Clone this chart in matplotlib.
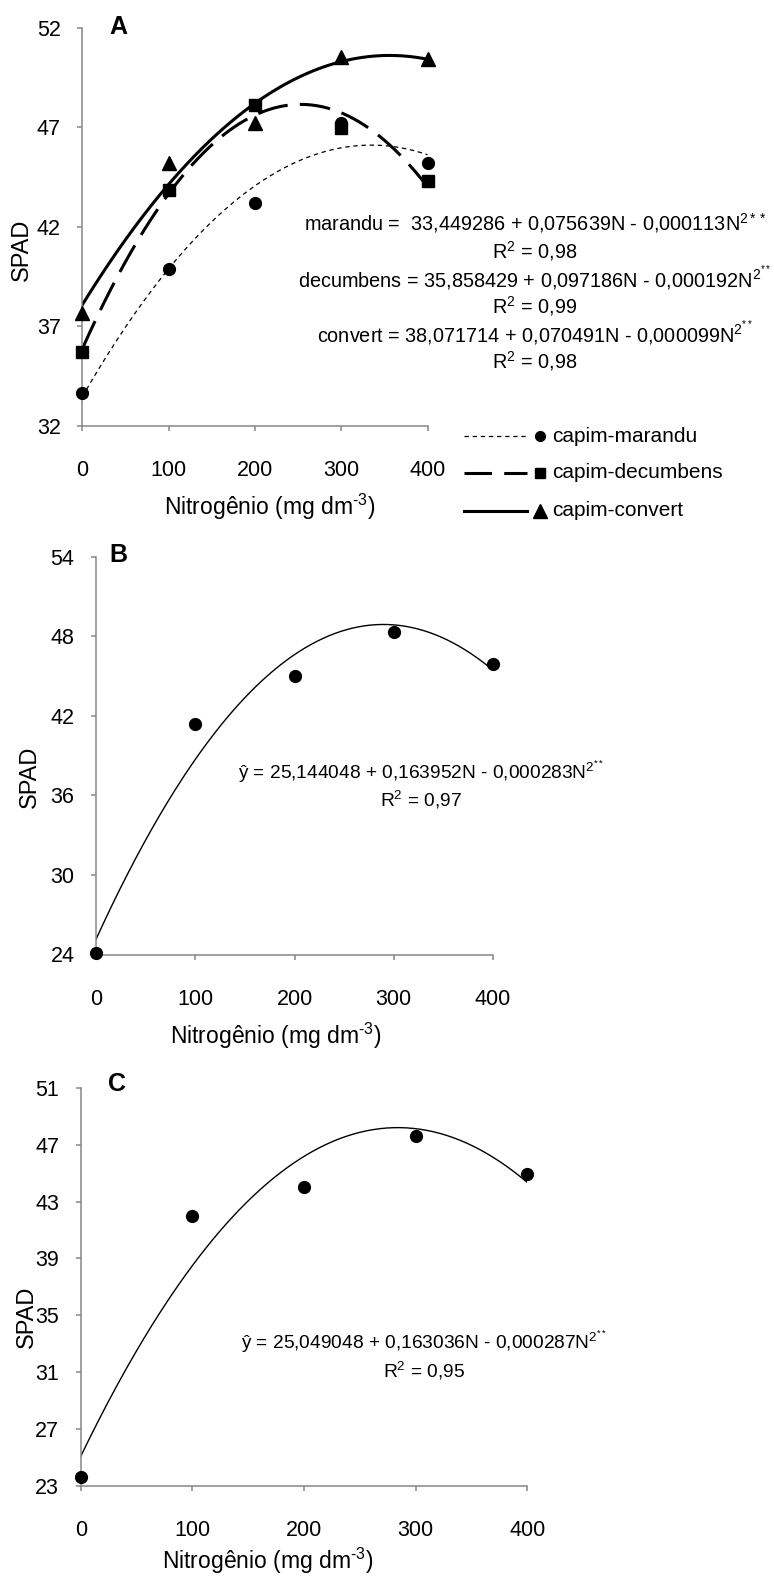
"""
SPAD readings vs nitrogen dose for three Brachiaria grasses (panels A, B, C).
"""
import numpy as np
import matplotlib
matplotlib.use("Agg")
import matplotlib.pyplot as plt

plt.rcParams['font.family'] = ['Liberation Sans', 'DejaVu Sans']
plt.rcParams['mathtext.fontset'] = 'custom'
plt.rcParams['mathtext.rm'] = 'Liberation Sans'
plt.rcParams['mathtext.it'] = 'Liberation Sans:italic'
plt.rcParams['mathtext.bf'] = 'Liberation Sans:bold'
plt.rcParams['mathtext.default'] = 'regular'

W, H = 774, 1577

nitrogen = [0, 100, 200, 300, 400]

# panel A - observed means
marandu_a = [33.63, 39.86, 43.18, 47.24, 45.19]
decumbens_a = [35.72, 43.85, 48.13, 46.95, 44.31]
convert_a = [37.68, 45.23, 47.24, 50.53, 50.46]
# panels B and C
spad_b = [24.13, 41.35, 44.99, 48.35, 45.92]
spad_c = [23.62, 42.01, 44.04, 47.61, 44.97]

# regression coefficients printed on the chart (c0, c1, c2)
coef_marandu = [33.449286, 0.075639, -0.000113]
coef_decumbens = [35.858429, 0.097186, -0.000192]
coef_convert = [38.071714, 0.070491, -0.000099]
coef_b = [25.144048, 0.163952, -0.000283]
coef_c = [25.049048, 0.163036, -0.000287]

yticks_a = [32, 37, 42, 47, 52]
yticks_b = [24, 30, 36, 42, 48, 54]
yticks_c = [23, 27, 31, 35, 39, 43, 47, 51]
xticks = [0, 100, 200, 300, 400]

legend_labels = ['capim-marandu', 'capim-decumbens', 'capim-convert']

GRAY = '#868686'
XLABEL = 'Nitrog\u00eanio (mg dm$^{\\text{-}3}$)'

fig = plt.figure(figsize=(W / 100, H / 100), dpi=100)


def add_axes_px(left, top, right, bottom):
    return fig.add_axes([left / W, 1 - bottom / H, (right - left) / W, (bottom - top) / H])


def style_axes(ax, yticks, ylim):
    ax.set_xlim(0, 400)
    ax.set_ylim(*ylim)
    ax.set_xticks(xticks)
    ax.set_yticks(yticks)
    for s in ['top', 'right']:
        ax.spines[s].set_visible(False)
    for s in ['left', 'bottom']:
        ax.spines[s].set_color(GRAY)
        ax.spines[s].set_linewidth(1.1)
    ax.tick_params(direction='out', length=3.5, width=1.1, color=GRAY,
                   labelsize=15.5, labelcolor='black')
    ax.tick_params(axis='x', pad=21)
    ax.tick_params(axis='y', pad=12)
    ax.patch.set_alpha(0)


def set_labels(ax, box, ylab_px, xlab_px):
    # box = (left, top, right, bottom) in pixels; label centres in pixels
    left, top, right, bottom = box
    w, h = right - left, bottom - top
    ax.set_ylabel('SPAD', fontsize=17)
    ax.yaxis.set_label_coords((ylab_px[0] - left) / w, (bottom - ylab_px[1]) / h)
    ax.yaxis.label.set_va('center')
    ax.set_xlabel(XLABEL, fontsize=16.5)
    ax.xaxis.set_label_coords((xlab_px[0] - left) / w, (bottom - xlab_px[1]) / h)
    ax.xaxis.label.set_va('center')


def curve(coef):
    n = np.linspace(0, 400, 201)
    return n, np.polyval(coef[::-1], n)


# ---------------- panel A ----------------
boxA = (82.3, 28, 427.5, 425.5)
axA = add_axes_px(*boxA)
style_axes(axA, yticks_a, (32, 52))
n, y = curve(coef_marandu)
axA.plot(n, y, color='black', lw=0.9, dashes=(3.5, 3))
n, y = curve(coef_decumbens)
axA.plot(n, y, color='black', lw=2.2, dashes=(10, 4))
n, y = curve(coef_convert)
axA.plot(n, y, color='black', lw=2.2)
axA.plot(nitrogen, marandu_a, 'o', color='black', ms=8.5, clip_on=False, zorder=5)
axA.plot(nitrogen, decumbens_a, 's', color='black', ms=8.5, clip_on=False, zorder=5)
axA.plot(nitrogen, convert_a, '^', color='black', ms=9.5, clip_on=False, zorder=5)
set_labels(axA, boxA, (22, 250), (270, 507))

# ---------------- panel B ----------------
boxB = (96, 556.7, 493, 954.5)
axB = add_axes_px(*boxB)
style_axes(axB, yticks_b, (24, 54))
n, y = curve(coef_b)
axB.plot(n, y, color='black', lw=1.0)
axB.plot(nitrogen, spad_b, 'o', color='black', ms=8.5, clip_on=False, zorder=5)
set_labels(axB, boxB, (30, 776.7), (276, 1036))

# ---------------- panel C ----------------
boxC = (80.7, 1087.9, 527.3, 1485.5)
axC = add_axes_px(*boxC)
style_axes(axC, yticks_c, (23, 51))
n, y = curve(coef_c)
axC.plot(n, y, color='black', lw=1.0)
axC.plot(nitrogen, spad_c, 'o', color='black', ms=8.5, clip_on=False, zorder=5)
set_labels(axC, boxC, (27, 1316.4), (268, 1561))

# ---------------- overlay for annotations / legend (pixel coords) ----------------
over = fig.add_axes([0, 0, 1, 1])
over.set_xlim(0, W)
over.set_ylim(H, 0)
over.axis('off')
over.patch.set_alpha(0)

for letter, (x, yy) in zip('ABC', [(118, 27), (118, 555), (117, 1084)]):
    over.text(x, yy, letter, fontsize=18, fontweight='bold', ha='center', va='center')

eq_a = [
    'marandu =  33,449286 + 0,075639N - 0,000113N$^{2**}$',
    'R$^{2}$ = 0,98',
    'decumbens = 35,858429 + 0,097186N - 0,000192N$^{2^{**}}$',
    'R$^{2}$ = 0,99',
    'convert = 38,071714 + 0,070491N - 0,000099N$^{2^{**}}$',
    'R$^{2}$ = 0,98',
]
for i, s in enumerate(eq_a):
    over.text(535, 223 + i * 27.7, s, fontsize=14.3, ha='center', va='center')

over.text(421, 772, '\u0177 = 25,144048 + 0,163952N - 0,000283N$^{2^{**}}$',
          fontsize=13.8, ha='center', va='center')
over.text(421, 800, 'R$^{2}$ = 0,97', fontsize=13.8, ha='center', va='center')
over.text(424, 1342, '\u0177 = 25,049048 + 0,163036N - 0,000287N$^{2^{**}}$',
          fontsize=13.8, ha='center', va='center')
over.text(424, 1371, 'R$^{2}$ = 0,95', fontsize=13.8, ha='center', va='center')

# legend (Excel style: line sample, then marker, then label)
leg_y = [436, 473, 511]
leg_styles = [dict(lw=0.9, dashes=(3.5, 3)), dict(lw=2.2, dashes=(9, 4)), dict(lw=2.2)]
leg_markers = [('o', 7), ('s', 6.5), ('^', 10)]
for yy, st, (mk, ms), lab in zip(leg_y, leg_styles, leg_markers, legend_labels):
    over.plot([464, 527], [yy, yy], color='black', **st)
    over.plot([540], [yy], mk, color='black', ms=ms)
    over.text(552, yy, lab, fontsize=15, ha='left', va='center')

fig.savefig('out.png', dpi=100)
